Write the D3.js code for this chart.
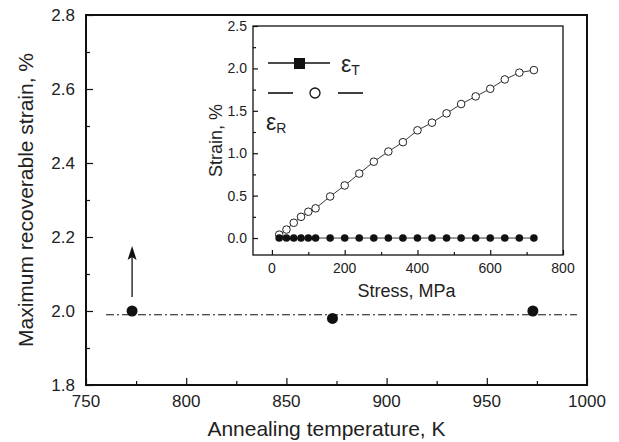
<!DOCTYPE html>
<html>
<head>
<meta charset="utf-8">
<script src="https://cdn.jsdelivr.net/npm/d3@7"></script>
<style>
  body { margin: 0; background: #fff; }
  text { font-family: "Liberation Sans", Arial, sans-serif; fill: #222; }
</style>
</head>
<body>
<div id="chart"></div>
<script>
// main plot: max recoverable strain vs annealing temperature
const annealTemp = [773, 873, 973];
const maxStrain = [2.0, 1.98, 2.0];
const fitTemp = [760, 995];
const fitStrain = [1.99, 1.99];
const arrowFrom = [773, 2.038];
const arrowTo = [773, 2.176];
const mainXTicks = [750, 800, 850, 900, 950, 1000];
const mainYTicks = [1.8, 2.0, 2.2, 2.4, 2.6, 2.8];

// inset: strain vs stress
const stress = [20, 40, 60, 80, 100, 120, 160, 200, 240, 280, 320, 360, 400, 440, 480, 520, 560, 600, 640, 680, 720];
const strainR = [0.04, 0.10, 0.18, 0.25, 0.31, 0.35, 0.49, 0.62, 0.76, 0.90, 1.02, 1.13, 1.27, 1.36, 1.47, 1.58, 1.67, 1.76, 1.87, 1.95, 1.98];
const strainT = [0, 0, 0, 0, 0, 0, 0, 0, 0, 0, 0, 0, 0, 0, 0, 0, 0, 0, 0, 0, 0];
const insetXTicks = [0, 200, 400, 600, 800];
const insetYTicks = [0.0, 0.5, 1.0, 1.5, 2.0, 2.5];

const W = 619, H = 442;
const svg = d3.select("#chart").append("svg").attr("width", W).attr("height", H);

let x = d3.scaleLinear().domain([750, 1000]).range([86, 587]);
let y = d3.scaleLinear().domain([1.8, 2.8]).range([385, 15]);

// inward ticks, major + minor
function ticks(g, scale, vals, minor, orient, major, small) {
  let mk = () => orient === "bottom" ? d3.axisTop(scale) : d3.axisRight(scale);
  g.call(mk().tickValues(minor).tickSize(small).tickFormat(""));
  g.append("g").call(mk().tickValues(vals).tickSize(major).tickFormat(""));
  g.selectAll(".domain").remove();
  g.selectAll("line").attr("stroke", "#111").attr("stroke-width", 1.2);
}

// main frame
svg.append("rect").attr("x", 86).attr("y", 15).attr("width", 501).attr("height", 370)
  .attr("fill", "none").attr("stroke", "#111").attr("stroke-width", 2);

ticks(svg.append("g").attr("transform", "translate(0,385)"), x, mainXTicks,
  d3.range(775, 1000, 50), "bottom", 7, 4);
ticks(svg.append("g").attr("transform", "translate(86,0)"), y, mainYTicks,
  d3.range(1.9, 2.8, 0.2), "left", 7, 4);

svg.append("g").selectAll("text").data(mainXTicks).join("text")
  .attr("x", d => x(d)).attr("y", 407).attr("text-anchor", "middle")
  .attr("font-size", 17).text(d => d);
svg.append("g").selectAll("text").data(mainYTicks).join("text")
  .attr("x", 75).attr("y", d => y(d) + 6).attr("text-anchor", "end")
  .attr("font-size", 17).text(d => d3.format(".1f")(d));

svg.append("text").attr("x", x(870)).attr("y", 436).attr("text-anchor", "middle")
  .attr("font-size", 21).text("Annealing temperature, K");
svg.append("text").attr("transform", `translate(33,${y(2.3)}) rotate(-90)`)
  .attr("text-anchor", "middle").attr("font-size", 21).text("Maximum recoverable strain, %");

// dash-dot level line
svg.append("line")
  .attr("x1", x(fitTemp[0])).attr("x2", x(fitTemp[1]))
  .attr("y1", y(fitStrain[0])).attr("y2", y(fitStrain[1]))
  .attr("stroke", "#111").attr("stroke-width", 1.1).attr("stroke-dasharray", "8,3,2,3");

svg.append("g").selectAll("circle").data(annealTemp).join("circle")
  .attr("cx", d => x(d)).attr("cy", (d, i) => y(maxStrain[i])).attr("r", 5.5).attr("fill", "#111");

// arrow
svg.append("line").attr("x1", x(arrowFrom[0])).attr("x2", x(arrowTo[0]))
  .attr("y1", y(arrowFrom[1])).attr("y2", y(arrowTo[1]) + 10)
  .attr("stroke", "#111").attr("stroke-width", 1.3);
let ax = x(arrowTo[0]), ay = y(arrowTo[1]);
svg.append("path").attr("d", `M${ax},${ay} L${ax - 4.5},${ay + 14} L${ax},${ay + 11} L${ax + 4.5},${ay + 14} Z`)
  .attr("fill", "#111");

// ---- inset ----
let ix = d3.scaleLinear().domain([-52, 800]).range([253, 563]);
let iy = d3.scaleLinear().domain([-0.2, 2.5]).range([255, 26]);

svg.append("rect").attr("x", 253).attr("y", 26).attr("width", 310).attr("height", 229)
  .attr("fill", "#fff").attr("stroke", "#111").attr("stroke-width", 1.3);

ticks(svg.append("g").attr("transform", "translate(0,255)"), ix, insetXTicks,
  [100, 300, 500, 700], "bottom", 5, 3);
ticks(svg.append("g").attr("transform", "translate(253,0)"), iy, insetYTicks,
  [0.25, 0.75, 1.25, 1.75, 2.25], "left", 5, 3);

svg.append("g").selectAll("text").data(insetXTicks).join("text")
  .attr("x", d => ix(d)).attr("y", 273).attr("text-anchor", "middle")
  .attr("font-size", 14).text(d => d);
svg.append("g").selectAll("text").data(insetYTicks).join("text")
  .attr("x", 247).attr("y", d => iy(d) + 5).attr("text-anchor", "end")
  .attr("font-size", 14).text(d => d3.format(".1f")(d));

svg.append("text").attr("x", ix(370)).attr("y", 297).attr("text-anchor", "middle")
  .attr("font-size", 18).text("Stress, MPa");
svg.append("text").attr("transform", `translate(222,${iy(1.15)}) rotate(-90)`)
  .attr("text-anchor", "middle").attr("font-size", 18).text("Strain, %");

let lineR = d3.line().x((d, i) => ix(stress[i])).y(d => iy(d));
svg.append("path").attr("d", lineR(strainR)).attr("fill", "none").attr("stroke", "#222").attr("stroke-width", 0.9);
svg.append("path").attr("d", lineR(strainT)).attr("fill", "none").attr("stroke", "#222").attr("stroke-width", 0.9);

svg.append("g").selectAll("circle").data(strainR).join("circle")
  .attr("cx", (d, i) => ix(stress[i])).attr("cy", d => iy(d)).attr("r", 3.8)
  .attr("fill", "#fff").attr("stroke", "#222").attr("stroke-width", 1);
svg.append("g").selectAll("circle").data(strainT).join("circle")
  .attr("cx", (d, i) => ix(stress[i])).attr("cy", d => iy(d)).attr("r", 3.8).attr("fill", "#111");

// legend
let lg = svg.append("g");
lg.append("line").attr("x1", 268).attr("x2", 330).attr("y1", 63).attr("y2", 63)
  .attr("stroke", "#111").attr("stroke-width", 1.6);
lg.append("rect").attr("x", 294).attr("y", 58).attr("width", 11).attr("height", 11).attr("fill", "#111");
lg.append("line").attr("x1", 268).attr("x2", 293).attr("y1", 93).attr("y2", 93)
  .attr("stroke", "#111").attr("stroke-width", 1.6);
lg.append("line").attr("x1", 338).attr("x2", 363).attr("y1", 93).attr("y2", 93)
  .attr("stroke", "#111").attr("stroke-width", 1.6);
lg.append("circle").attr("cx", 315).attr("cy", 93).attr("r", 5)
  .attr("fill", "#fff").attr("stroke", "#111").attr("stroke-width", 1.3);

let tT = lg.append("text").attr("x", 341).attr("y", 72).attr("font-size", 23);
tT.append("tspan").text("ε");
tT.append("tspan").attr("font-size", 14).attr("dy", 3).text("T");
let tR = lg.append("text").attr("x", 266).attr("y", 130).attr("font-size", 23);
tR.append("tspan").text("ε");
tR.append("tspan").attr("font-size", 14).attr("dy", 3).text("R");
</script>
</body>
</html>
